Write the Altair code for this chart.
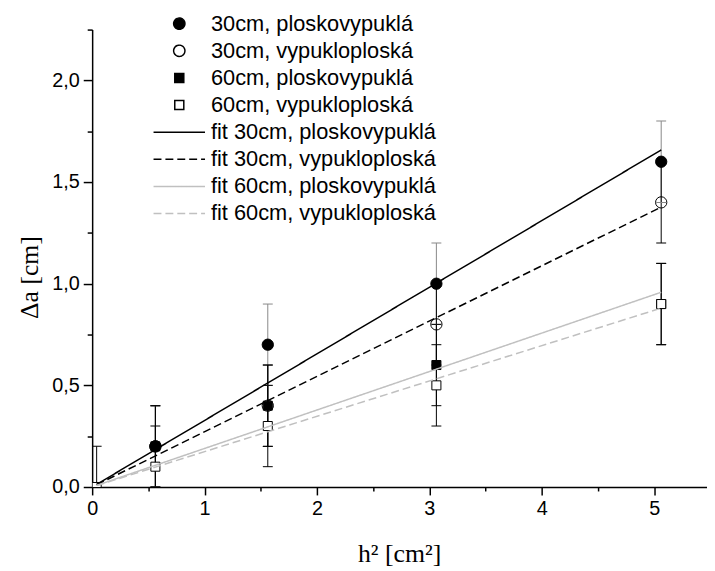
import altair as alt
import pandas as pd

# ---- data ----
h2 = [0.04, 0.5625, 1.5625, 3.0625, 5.0625]

point_names = [
    "30cm, ploskovypuklá",
    "30cm, vypukloploská",
    "60cm, ploskovypuklá",
    "60cm, vypukloploská",
]
fit_names = [
    "fit 30cm, ploskovypuklá",
    "fit 30cm, vypukloploská",
    "fit 60cm, ploskovypuklá",
    "fit 60cm, vypukloploská",
]

# None = no marker visible at that position in the reference
y_30_plosko = [None, 0.2, 0.7, 1.0, 1.6]
y_30_vypuklo = [None, 0.2, 0.4, 0.8, 1.4]
y_60_plosko = [None, 0.2, 0.4, 0.6, 0.9]
y_60_vypuklo = [0.0, 0.1, 0.3, 0.5, 0.9]

err_30_plosko = [0.2, 0.2, 0.2, 0.2, 0.2]
err_30_vypuklo = [0.2, 0.2, 0.2, 0.2, 0.2]
err_60_plosko = [0.2, 0.2, 0.2, 0.2, 0.2]
err_60_vypuklo = [0.2, 0.2, 0.2, 0.2, 0.2]

fit_x = [0.04, 5.0625]
fit_30_plosko = [0.013, 1.658]
fit_30_vypuklo = [0.011, 1.377]
fit_60_plosko = [0.008, 0.958]
fit_60_vypuklo = [0.007, 0.88]

x_tick_values = [0, 0.5, 1, 1.5, 2, 2.5, 3, 3.5, 4, 4.5, 5]
y_tick_values = [0, 0.25, 0.5, 0.75, 1.0, 1.25, 1.5, 1.75, 2.0, 2.25]

# ---- tables ----
rows = []
for name, ys, es in zip(point_names,
                        [y_30_plosko, y_30_vypuklo, y_60_plosko, y_60_vypuklo],
                        [err_30_plosko, err_30_vypuklo, err_60_plosko, err_60_vypuklo]):
    for x, y, e in zip(h2, ys, es):
        if y is None:
            continue
        rows.append({"series": name, "x": x, "y": y, "lo": y - e, "hi": y + e})
bars = pd.DataFrame(rows)

# marker drawing order (last drawn is on top), as seen in the reference
draw_order = [point_names[2], point_names[3], point_names[1], point_names[0]]
marks_df = pd.concat([bars[bars["series"] == s] for s in draw_order], ignore_index=True)

frows = []
for name, ys in zip(fit_names, [fit_30_plosko, fit_30_vypuklo, fit_60_plosko, fit_60_vypuklo]):
    for x, y in zip(fit_x, ys):
        frows.append({"series": name, "x": x, "y": y})
fits = pd.DataFrame(frows)

all_names = point_names + fit_names
LINE = "M-4.56,0H4.56"
SQUARE = "M-0.8,-0.8H0.8V0.8H-0.8Z"
GRAY = "#c0c0c0"

shape_scale = alt.Scale(domain=all_names,
                        range=["circle", "circle", SQUARE, SQUARE, LINE, LINE, LINE, LINE])
fill_scale = alt.Scale(domain=all_names,
                       range=["black", "transparent", "black", "white",
                              "transparent", "transparent", "transparent", "transparent"])
stroke_scale = alt.Scale(domain=all_names,
                         range=["black", "black", "black", "black", "black", "black", GRAY, GRAY])
dash_scale = alt.Scale(domain=all_names,
                       range=[[1, 0], [1, 0], [1, 0], [1, 0], [1, 0], [8, 4], [1, 0], [8, 4]])
err_scale = alt.Scale(domain=point_names, range=["#888888", "black", "black", "black"])

leg = alt.Legend(title=None)

x_axis = alt.Axis(
    values=x_tick_values,
    labelExpr="datum.value % 1 == 0 ? format(datum.value, 'd') : ''",
    tickSize={"condition": {"test": "datum.value % 1 == 0", "value": 8}, "value": 4},
    title="h² [cm²]",
    titleX=310, titleY=75, titleAlign="center", titleBaseline="alphabetic",
    labelFlush=False, labelOverlap=False, grid=False,
)
y_axis = alt.Axis(
    values=y_tick_values,
    labelExpr="datum.value % 0.5 == 0 ? replace(format(datum.value, '.1f'), '.', ',') : ''",
    tickSize={"condition": {"test": "datum.value % 0.5 == 0", "value": 9}, "value": 5},
    title="Δa [cm]",
    titleAngle=270, titleX=-55, titleY=250, titleAlign="center", titleBaseline="alphabetic",
    labelFlush=False, labelOverlap=False, grid=False,
)

x_scale = alt.Scale(domain=[0, 5.47], nice=False, zero=False)
y_scale = alt.Scale(domain=[0, 2.25], nice=False, zero=False)

bars_base = alt.Chart(bars)

err_rule = bars_base.mark_rule(strokeWidth=1, clip=True).encode(
    x=alt.X("x:Q", scale=x_scale, axis=x_axis),
    y=alt.Y("lo:Q", scale=y_scale, axis=y_axis),
    y2="hi:Q",
    color=alt.Color("series:N", scale=err_scale, legend=None),
)
cap_lo = bars_base.mark_tick(orient="horizontal", size=10, thickness=1, opacity=1, clip=True).encode(
    x=alt.X("x:Q", scale=x_scale, axis=x_axis),
    y=alt.Y("lo:Q", scale=y_scale, axis=y_axis),
    color=alt.Color("series:N", scale=err_scale, legend=None),
)
cap_hi = bars_base.mark_tick(orient="horizontal", size=10, thickness=1, opacity=1, clip=True).encode(
    x=alt.X("x:Q", scale=x_scale, axis=x_axis),
    y=alt.Y("hi:Q", scale=y_scale, axis=y_axis),
    color=alt.Color("series:N", scale=err_scale, legend=None),
)

points = alt.Chart(marks_df).mark_point(filled=True, opacity=1, size=130, strokeWidth=1, clip=True).encode(
    x=alt.X("x:Q", scale=x_scale, axis=x_axis),
    y=alt.Y("y:Q", scale=y_scale, axis=y_axis),
    shape=alt.Shape("series:N", scale=shape_scale, legend=leg),
    fill=alt.Fill("series:N", scale=fill_scale, legend=leg),
    stroke=alt.Stroke("series:N", scale=stroke_scale, legend=leg),
)

lines = alt.Chart(fits).mark_line(strokeWidth=1.5, clip=True).encode(
    x=alt.X("x:Q", scale=x_scale, axis=x_axis),
    y=alt.Y("y:Q", scale=y_scale, axis=y_axis),
    stroke=alt.Stroke("series:N", scale=stroke_scale, legend=leg),
    strokeDash=alt.StrokeDash("series:N", scale=dash_scale, legend=leg),
)

chart = alt.layer(err_rule, cap_lo, cap_hi, points, lines).properties(
    width=621,
    height=462,
    autosize=alt.AutoSizeParams(type="none"),
    padding={"left": 85, "top": 19, "right": 0, "bottom": 79},
).configure_view(
    stroke=None
).configure_axis(
    domainColor="black", domainWidth=1.5,
    tickColor="black", tickWidth=1.5,
    labelColor="black", labelFont="Liberation Sans", labelFontSize=20, labelPadding=4,
    titleColor="black", titleFont="Liberation Serif", titleFontSize=26, titleFontWeight="normal",
).configure_legend(
    orient="none", legendX=77, legendY=-17, padding=0,
    labelFont="Liberation Sans", labelFontSize=22, labelColor="black",
    labelOffset=21, labelLimit=400, rowPadding=5.4,
    symbolSize=130, symbolStrokeWidth=1.5,
)

chart.save("out.html", embed_options={"renderer": "svg", "actions": False})
